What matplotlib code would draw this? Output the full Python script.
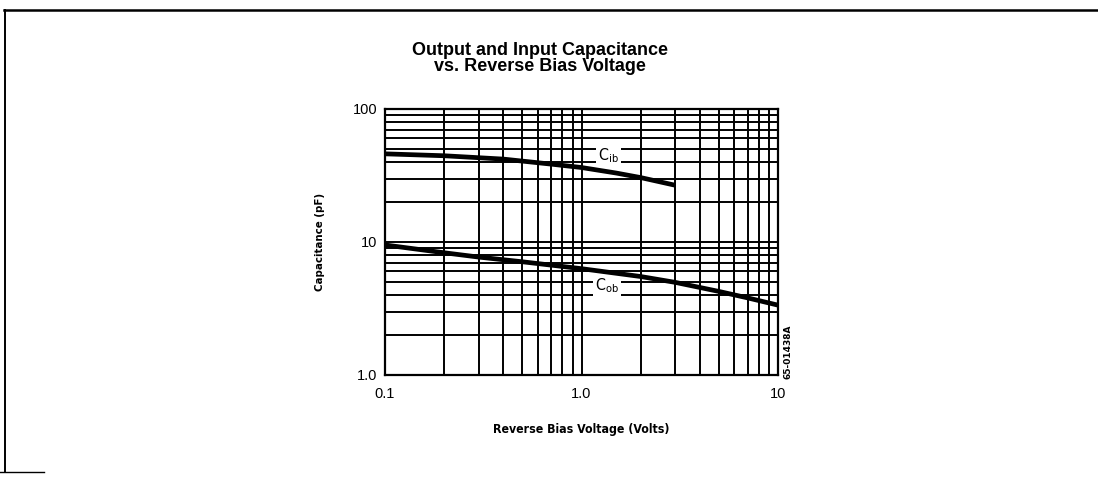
import numpy as np
import matplotlib
matplotlib.use("Agg")
import matplotlib.pyplot as plt
from matplotlib.lines import Line2D
from matplotlib.ticker import FixedLocator, NullFormatter

# curves (volts, pF)
cib_v = [0.1, 0.2, 0.4, 0.7, 1.0, 1.5, 2.0, 3.0]
cib_c = [46.0, 44.5, 42.0, 38.5, 36.3, 33.0, 30.5, 26.7]

cob_v = [0.1, 0.2, 0.3, 0.5, 1.0, 2.0, 3.0, 5.0, 7.0, 10.0]
cob_c = [9.5, 8.3, 7.7, 7.1, 6.3, 5.5, 4.97, 4.25, 3.8, 3.35]

x_ticks = [0.1, 1.0, 10]
x_labels = ["0.1", "1.0", "10"]
y_ticks = [1, 10, 100]
y_labels = ["1.0", "10", "100"]

narrow = ["DejaVu Sans"]
sans = ["Liberation Sans", "DejaVu Sans"]

fig = plt.figure(figsize=(10.98, 4.78), dpi=100)
ax = fig.add_axes([0.3506, 0.2155, 0.358, 0.5565])

ax.set_xscale("log")
ax.set_yscale("log")
ax.set_xlim(0.1, 10)
ax.set_ylim(1, 100)

ax.plot(cib_v, cib_c, color="black", lw=3.4, solid_capstyle="butt", zorder=4)
ax.plot(cob_v, cob_c, color="black", lw=3.4, solid_capstyle="butt", zorder=4)

ax.set_xticks(x_ticks)
ax.set_xticklabels(x_labels)
ax.set_yticks(y_ticks)
ax.set_yticklabels(y_labels)
ax.xaxis.set_minor_locator(FixedLocator([m * d for d in (0.1, 1) for m in range(2, 10)]))
ax.yaxis.set_minor_locator(FixedLocator([m * d for d in (1, 10) for m in range(2, 10)]))
ax.xaxis.set_minor_formatter(NullFormatter())
ax.yaxis.set_minor_formatter(NullFormatter())
ax.grid(True, which="both", color="black", lw=1.4)
ax.tick_params(which="both", length=0, labelsize=10.5)
ax.tick_params(axis="y", pad=5.5)
ax.tick_params(axis="x", pad=8.5)
for lbl in ax.get_xticklabels() + ax.get_yticklabels():
    lbl.set_family(sans)
for s in ax.spines.values():
    s.set_linewidth(1.6)

for lab, xv, yv in [("C$_\\mathregular{ib}$", 1.37, 44.5), ("C$_\\mathregular{ob}$", 1.35, 4.7)]:
    ax.text(xv, yv, lab, fontsize=11.5, ha="center", va="center", zorder=3,
            family=narrow, fontstretch="condensed",
            bbox=dict(facecolor="white", edgecolor="none", pad=1.5))

ax.set_xlabel("Reverse Bias Voltage (Volts)", family=narrow, fontweight="bold",
              fontstretch="condensed", fontsize=8.8, labelpad=16)
ax.set_ylabel("Capacitance (pF)", family=narrow, fontweight="bold",
              fontstretch="condensed", fontsize=8.2, labelpad=20)

title_font = dict(ha="center", va="baseline", fontsize=13, fontweight="bold",
                  family=sans)
fig.text(0.492, 1 - 55 / 478, "Output and Input Capacitance", **title_font)
fig.text(0.492, 1 - 71 / 478, "vs. Reverse Bias Voltage", **title_font)

fig.text(0.7175, 0.265, "65-01438A", rotation=90, ha="center", va="center",
         fontsize=6.5, family=narrow, fontweight="bold")

# page frame
fig.add_artist(Line2D([0.004, 1.0], [0.979, 0.979], color="black", lw=1.8))
fig.add_artist(Line2D([0.005, 0.005], [0.012, 0.979], color="black", lw=1.4))
fig.add_artist(Line2D([0.0, 0.04], [0.013, 0.013], color="black", lw=1.0))

fig.savefig("out.png", dpi=100)
